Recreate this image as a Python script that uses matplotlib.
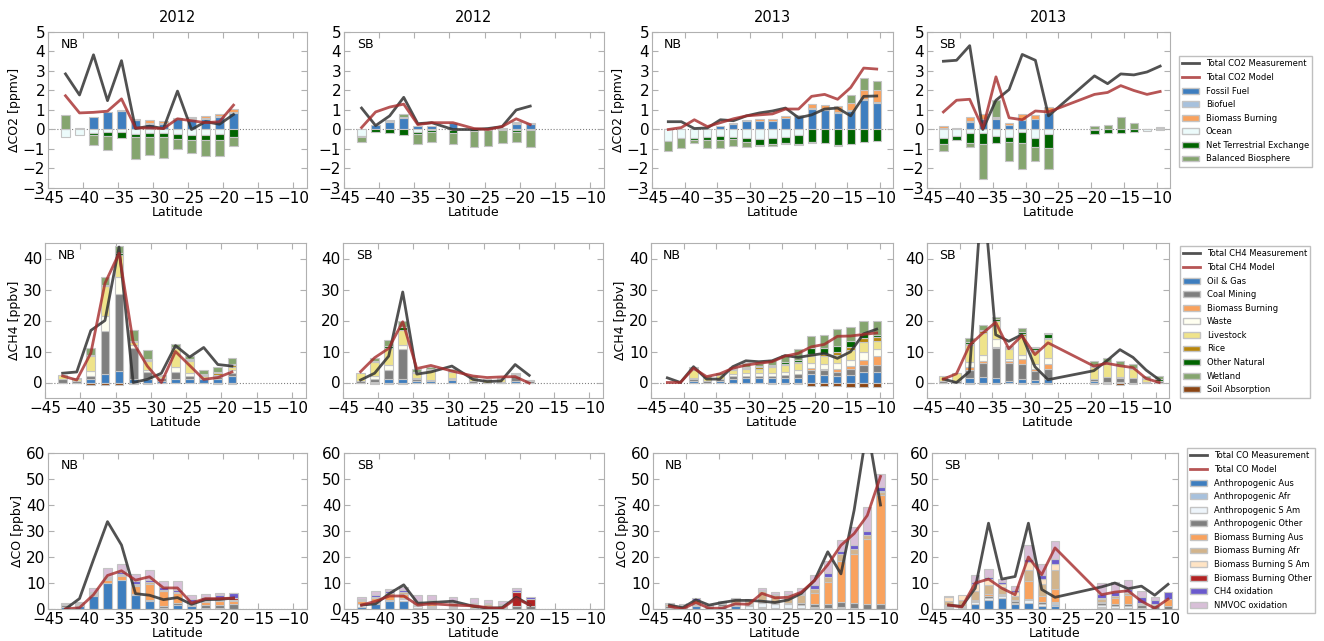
import numpy as np
import matplotlib.pyplot as plt
from matplotlib.lines import Line2D
from matplotlib.patches import Patch

# latitude bin centres of each campaign
lat_nb12 = [-42.5, -40.5, -38.5, -36.5, -34.5, -32.5, -30.5, -28.5, -26.5, -24.5, -22.5, -20.5, -18.5]
lat_sb12 = [-42.5, -40.5, -38.5, -36.5, -34.5, -32.5, -29.5, -26.5, -24.5, -22.5, -20.5, -18.5]
lat_nb13 = [-42.5, -40.5, -38.5, -36.5, -34.5, -32.5, -30.5, -28.5, -26.5, -24.5, -22.5,
            -20.5, -18.5, -16.5, -14.5, -12.5, -10.5]
lat_sb13 = [-42.5, -40.5, -38.5, -36.5, -34.5, -32.5, -30.5, -28.5, -26.5,
            -19.5, -17.5, -15.5, -13.5, -11.5, -9.5]

# ---------------- CO2 [ppmv] ----------------
co2_labels = ['Fossil Fuel', 'Biofuel', 'Biomass Burning', 'Ocean',
              'Net Terrestrial Exchange', 'Balanced Biosphere']
co2_colors = ['#3e7ebf', '#a7c1dd', '#f9a25d', '#ecfbfb', '#006400', '#85a56f']

co2_nb12_ff = [0, 0.08, 0.62, 0.9, 0.97, 0.48, 0.3, 0.3, 0.55, 0.55, 0.55, 0.65, 0.85]
co2_nb12_bf = [0, 0, 0, 0, 0, 0.03, 0.05, 0.05, 0, 0.03, 0.05, 0.05, 0.05]
co2_nb12_bb = [0, 0, 0, 0, 0.02, 0.05, 0.13, 0.1, 0.05, 0.07, 0.1, 0.08, 0.15]
co2_nb12_oc = [-0.4, -0.28, -0.2, -0.15, -0.15, -0.22, -0.2, -0.2, -0.25, -0.3, -0.3, -0.25, 0]
co2_nb12_nte = [0, 0, -0.1, -0.2, -0.3, -0.18, -0.2, -0.2, -0.25, -0.25, -0.25, -0.3, -0.4]
co2_nb12_bal = [0.73, 0, -0.47, -0.68, 0, -1.13, -0.9, -1.05, -0.5, -0.68, -0.83, -0.8, -0.45]
co2_nb12_meas = [2.85, 1.77, 3.83, 1.48, 3.53, 0.05, 0.17, 0.05, 1.97, 0.0, 0.4, 0.27, 0.77]
co2_nb12_model = [1.73, 0.85, 0.88, 0.94, 1.57, 0.08, 0.08, 0.05, 0.55, 0.45, 0.35, 0.4, 1.25]

co2_sb12_ff = [0, 0.22, 0.4, 0.6, 0.2, 0.2, 0.35, 0, 0, 0.1, 0.3, 0.3]
co2_sb12_bf = [0, 0, 0.03, 0, 0, 0, 0, 0, 0, 0, 0.05, 0]
co2_sb12_bb = [0, 0, 0, 0.05, 0, 0, 0, 0, 0, 0, 0.05, 0.05]
co2_sb12_oc = [-0.35, 0, 0, 0, -0.12, -0.05, -0.05, 0, 0, 0, -0.05, 0]
co2_sb12_nte = [-0.05, -0.15, -0.18, -0.3, -0.1, -0.1, -0.12, -0.1, -0.05, -0.02, -0.08, -0.05]
co2_sb12_bal = [-0.25, 0, 0.05, 0.12, -0.5, -0.5, -0.55, -0.78, -0.78, -0.65, -0.5, -0.85]
co2_sb12_meas = [1.1, 0.2, 0.7, 1.65, 0.3, 0.35, 0.0, 0.0, 0.05, 0.15, 1.0, 1.2]
co2_sb12_model = [0.1, 0.9, 1.15, 1.3, 0.25, 0.35, 0.35, 0.05, 0.0, 0.15, 0.55, 0.25]

co2_nb13_ff = [0, 0, 0.03, 0, 0.2, 0.3, 0.45, 0.45, 0.45, 0.6, 0.7, 1.05, 1.0, 0.85, 0.95, 1.5, 1.35]
co2_nb13_bf = [0, 0, 0, 0, 0, 0, 0, 0, 0, 0, 0, 0.05, 0.05, 0.05, 0.05, 0.05, 0.05]
co2_nb13_bb = [0, 0, 0, 0, 0, 0.02, 0.03, 0.1, 0.07, 0.07, 0.03, 0.2, 0.2, 0.3, 0.35, 0.5, 0.6]
co2_nb13_oc = [-0.6, -0.45, -0.45, -0.4, -0.35, -0.38, -0.45, -0.5, -0.45, -0.4, -0.3,
               0, 0, 0, 0, 0, 0]
co2_nb13_nte = [0, 0, -0.1, -0.12, -0.2, -0.1, -0.2, -0.3, -0.3, -0.3, -0.45,
                -0.65, -0.7, -0.8, -0.75, -0.65, -0.6]
co2_nb13_bal = [-0.5, -0.5, -0.13, -0.43, -0.4, -0.37, -0.23, -0.07, -0.08, -0.05, -0.05,
                -0.05, 0, -0.05, 0.4, 0.6, 0.5]
co2_nb13_meas = [0.4, 0.4, 0.05, 0.08, 0.5, 0.45, 0.7, 0.85, 0.95, 1.1, 0.6, 0.75, 1.05, 1.1, 0.7, 1.7, 1.72]
co2_nb13_model = [0.0, 0.1, 0.5, 0.15, 0.35, 0.55, 0.7, 0.75, 0.8, 1.05, 1.05, 1.7, 1.8, 1.55, 2.15, 3.15, 3.1]

co2_sb13_ff = [0.1, 0.05, 0.4, 0.55, 0.55, 0.25, 0.5, 0.55, 0.85, 0.05, 0, 0, 0.05, 0, 0.05]
co2_sb13_bf = [0, 0, 0.05, 0, 0.05, 0, 0, 0, 0.05, 0, 0, 0, 0, 0, 0]
co2_sb13_bb = [0.1, 0.03, 0.2, 0.25, 0.05, 0.1, 0.3, 0.2, 0.25, 0, 0, 0.05, 0, 0, 0.05]
co2_sb13_oc = [-0.45, -0.35, -0.2, -0.2, -0.35, -0.4, -0.15, -0.45, -0.25, -0.05, 0, 0, 0, -0.1, 0]
co2_sb13_nte = [-0.3, -0.2, -0.5, -0.55, -0.35, -0.25, -0.55, -0.45, -0.7, -0.2, -0.2, -0.2, -0.15, 0, -0.05]
co2_sb13_bal = [-0.35, 0, -0.2, -1.8, 0.85, -0.95, -1.35, -0.7, -1.05, 0.15, 0.25, 0.6, 0.3, 0.05, 0.05]
co2_sb13_meas = [3.5, 3.55, 4.3, 0.0, 1.5, 2.05, 3.85, 3.55, 0.7, 2.75, 2.35, 2.85, 2.8, 2.95, 3.25]
co2_sb13_model = [0.9, 1.5, 1.55, 0.05, 2.7, 0.6, 0.5, 0.95, 0.9, 1.8, 1.9, 2.25, 2.0, 1.8, 1.95]

# ---------------- CH4 [ppbv] ----------------
ch4_labels = ['Oil & Gas', 'Coal Mining', 'Biomass Burning', 'Waste', 'Livestock',
              'Rice', 'Other Natural', 'Wetland', 'Soil Absorption']
ch4_colors = ['#3e7ebf', '#7f7f7f', '#f9a25d', '#fffff0', '#efe38a',
              '#b8860b', '#006400', '#85a56f', '#8b4513']

ch4_nb12_og = [0, 0, 1.0, 2.8, 3.8, 1.2, 1.0, 0.5, 1.0, 1.0, 1.0, 1.2, 2.0]
ch4_nb12_coal = [1.0, 0.5, 1.0, 13.7, 24.7, 9.8, 2.5, 1.0, 2.5, 1.0, 0.5, 0.6, 1.0]
ch4_nb12_bb = [0, 0, 0, 0, 0, 0, 0, 0, 0, 0, 0, 0, 0]
ch4_nb12_waste = [0, 0, 1.8, 5.0, 5.5, 1.0, 0.5, 0, 1.5, 1.2, 0, 0.4, 1.0]
ch4_nb12_live = [1.5, 0.6, 4.7, 9.5, 7.0, 1.0, 3.0, 0.5, 6.0, 3.6, 0.7, 0.3, 1.0]
ch4_nb12_rice = [0, 0, 0, 0, 0, 0, 0.3, 0, 0, 0.4, 0.3, 0.5, 0.6]
ch4_nb12_oth = [0, 0, 0.3, 0.5, 0.8, 0.3, 0.3, 0.2, 0.5, 0.3, 0.3, 0.3, 0.3]
ch4_nb12_wet = [0, 0.2, 2.2, 2.5, 2.2, 3.7, 2.9, 0.3, 1.0, 1.0, 1.2, 1.7, 2.1]
ch4_nb12_soil = [-0.2, -0.2, -0.8, -0.8, -0.8, -0.5, -0.5, -0.3, -0.3, -0.3, -0.3, -0.4, -0.4]
ch4_nb12_meas = [3.0, 3.4, 16.8, 20.0, 43.7, 0.0, 1.0, 3.0, 11.9, 8.2, 11.3, 5.8, 5.3]
ch4_nb12_model = [2.1, 0.8, 9.5, 32.0, 41.7, 13.0, 5.3, 0.0, 10.0, 5.5, 1.0, 1.6, 3.4]

ch4_sb12_og = [0, 0.3, 1.0, 1.2, 0.5, 0.5, 0.7, 0, 0, 0, 0.4, 0]
ch4_sb12_coal = [0.5, 0.7, 3.0, 9.6, 0.5, 0.3, 0.3, 0.5, 0, 0.3, 1.6, 0.5]
ch4_sb12_bb = [0, 0, 0, 0, 0, 0, 0, 0, 0, 0, 0, 0]
ch4_sb12_waste = [0, 1.0, 1.5, 1.4, 0.3, 0, 0.5, 0, 0, 0, 0, 0]
ch4_sb12_live = [2.5, 4.5, 5.5, 4.8, 1.7, 3.2, 2.0, 0.8, 0.8, 0.7, 0.3, 0]
ch4_sb12_rice = [0, 0, 0, 0, 0, 0, 0, 0, 0, 0, 0, 0]
ch4_sb12_oth = [0, 0.3, 0.8, 0.8, 0.3, 0.3, 0.3, 0.3, 0, 0, 0.3, 0.3]
ch4_sb12_wet = [0, 1.0, 2.0, 2.2, 1.2, 0.7, 0.5, 0.4, 0.4, 0.5, 0.4, 0]
ch4_sb12_soil = [-0.2, -0.5, -0.5, -0.6, -0.2, -0.2, -0.1, -0.1, -0.1, -0.1, -0.2, -0.1]
ch4_sb12_meas = [0.8, 3.0, 8.5, 29.2, 2.7, 3.4, 5.3, 1.0, 0.3, 0.5, 5.8, 2.3]
ch4_sb12_model = [3.5, 8.0, 11.0, 19.6, 4.5, 5.5, 3.7, 2.1, 1.6, 1.8, 1.9, -0.2]

ch4_nb13_og = [0, 0, 0.5, 0, 0.5, 1.0, 1.3, 1.3, 1.3, 1.4, 1.5, 2.6, 2.3, 2.0, 2.3, 3.3, 3.3]
ch4_nb13_coal = [0, 0, 0.5, 0.5, 0.7, 1.0, 0.7, 0.7, 0.8, 1.0, 1.2, 1.5, 1.6, 1.5, 2.0, 2.3, 2.3]
ch4_nb13_bb = [0, 0, 0, 0, 0, 0, 0, 0, 0, 0, 0, 0.5, 0.6, 1.0, 1.0, 1.8, 2.8]
ch4_nb13_waste = [0, 0, 0.5, 0, 0, 0.8, 1.0, 1.0, 1.0, 1.1, 1.3, 1.7, 1.5, 1.8, 1.8, 2.5, 2.5]
ch4_nb13_live = [0, 0, 2.5, 1.0, 1.3, 1.2, 1.2, 1.5, 1.8, 2.0, 2.2, 2.3, 2.6, 2.6, 3.5, 3.3, 2.5]
ch4_nb13_rice = [0, 0, 0.5, 0, 0, 0.4, 0.4, 0.4, 0.4, 0.5, 0.5, 0.6, 0.7, 0.8, 0.9, 1.2, 1.2]
ch4_nb13_oth = [0, 0, 0.2, 0, 0, 0.2, 0.3, 0.3, 0.4, 0.5, 0.6, 1.8, 1.7, 2.2, 2.0, 1.5, 0.8]
ch4_nb13_wet = [0, 0, 0.3, 0.5, 0.7, 0.4, 1.5, 1.0, 1.5, 2.3, 3.4, 4.0, 4.4, 5.5, 4.5, 4.1, 4.6]
ch4_nb13_soil = [0, 0, -0.3, 0, -0.2, -0.3, -0.3, -0.3, -0.4, -0.5, -0.5,
                 -1.0, -1.0, -1.2, -1.3, -1.5, -1.5]
ch4_nb13_meas = [1.5, 0.0, 5.1, 1.1, 1.1, 5.1, 7.0, 6.7, 7.0, 8.7, 8.1, 8.8, 9.4, 7.8, 9.9, 15.7, 17.2]
ch4_nb13_model = [0.0, 0.0, 4.6, 1.9, 2.8, 4.6, 5.6, 6.2, 6.7, 8.5, 9.4, 11.5, 12.3, 14.9, 15.0, 15.5, 16.0]

ch4_sb13_og = [0, 0, 1.5, 1.7, 1.3, 0.6, 1.2, 0.7, 1.0, 0.5, 0.3, 0.3, 0, 0, 0]
ch4_sb13_coal = [0.5, 0.5, 2.5, 4.6, 9.7, 5.7, 4.8, 2.9, 3.5, 0.7, 1.5, 1.0, 1.5, 0.3, 0.5]
ch4_sb13_bb = [0, 0, 1.0, 0.5, 0.5, 0.5, 1.5, 0.6, 1.5, 0, 0, 0.5, 0, 0, 0]
ch4_sb13_waste = [0, 0, 1.5, 2.2, 2.5, 0.7, 1.5, 1.8, 1.8, 0, 0, 0, 0, 0, 0]
ch4_sb13_live = [1.7, 2.5, 5.5, 7.0, 6.0, 3.3, 6.0, 4.2, 6.2, 3.8, 4.2, 3.5, 2.8, 0.7, 0]
ch4_sb13_rice = [0, 0, 0.5, 0.5, 0, 0.3, 0.5, 0.3, 0.5, 0.3, 0.3, 0.2, 0, 0, 0]
ch4_sb13_oth = [0, 0, 0.5, 0.5, 0.5, 0.3, 0.8, 0.5, 1.0, 0.4, 0.3, 0.3, 0.4, 0.3, 0.5]
ch4_sb13_wet = [0, 0, 1.5, 1.5, 0.5, 0.4, 1.2, 0.3, 0.5, 1.1, 1.2, 1.2, 1.3, 0.7, 1.0]
ch4_sb13_soil = [-0.3, 0, -0.5, -0.5, -0.5, -0.3, -0.5, -0.4, -0.5, -0.5, -0.5, -0.8, -0.5, -0.2, -0.3]
ch4_sb13_meas = [1.1, 0.0, 3.5, 64.0, 15.4, 13.3, 15.4, 5.1, 0.9, 3.8, 7.0, 10.6, 8.1, 4.0, 0.9]
ch4_sb13_model = [1.1, 2.8, 12.0, 15.9, 19.4, 10.9, 15.1, 9.0, 12.8, 5.3, 6.2, 5.4, 4.8, 1.3, 0.0]

# ---------------- CO [ppbv] ----------------
co_labels = ['Anthropogenic Aus', 'Anthropogenic Afr', 'Anthropogenic S Am', 'Anthropogenic Other',
             'Biomass Burning Aus', 'Biomass Burning Afr', 'Biomass Burning S Am',
             'Biomass Burning Other', 'CH4 oxidation', 'NMVOC oxidation']
co_colors = ['#3e7ebf', '#a7c1dd', '#eef5fb', '#7f7f7f', '#f9a25d',
             '#d2b48c', '#ffe4c4', '#b22222', '#6a5acd', '#d8bfd8']

co_nb12_aus = [0.8, 1.2, 5.0, 10.0, 11.0, 5.5, 3.0, 0.3, 1.5, 1.0, 0.3, 0.3, 0]
co_nb12_afr = [0, 0, 0, 0, 0, 0, 0, 0, 0, 0, 0, 0, 0]
co_nb12_sam = [0, 0, 0, 0, 0, 0, 0, 0, 0, 0, 0, 0, 0]
co_nb12_oth = [0.7, 0.5, 0.3, 0, 0, 0.3, 0.3, 0.7, 0.8, 0.5, 1.2, 1.2, 2.0]
co_nb12_bbaus = [0, 0, 0.5, 1.2, 1.8, 3.0, 6.5, 5.8, 3.7, 0.5, 1.3, 1.5, 1.2]
co_nb12_bbafr = [0.3, 0.3, 0.3, 0.3, 0.3, 0.5, 0.4, 0.3, 0, 0.3, 0.3, 0.4, 0.4]
co_nb12_bbsam = [0, 0, 0, 0, 0, 0, 0, 0, 0, 0, 0, 0, 0]
co_nb12_bboth = [0, 0, 0, 0.3, 0.3, 0.3, 0.3, 0.3, 0.5, 0.5, 0.5, 1.0, 0.8]
co_nb12_ch4 = [0.3, 0.3, 0.6, 0.7, 0.7, 1.2, 0.8, 1.0, 1.0, 1.2, 1.0, 1.0, 1.6]
co_nb12_nmvoc = [0.4, 0.5, 1.3, 3.3, 3.2, 2.7, 3.7, 2.4, 3.3, 1.3, 1.0, 0.9, 0.1]
co_nb12_meas = [0.0, 4.0, 19.0, 33.6, 24.6, 5.9, 5.3, 3.6, 4.4, 1.8, 3.6, 3.7, 4.2]
co_nb12_model = [0.0, 0.5, 5.5, 12.9, 14.7, 11.1, 12.4, 8.1, 8.1, 2.3, 4.0, 4.0, 4.2]

co_sb12_aus = [0.8, 2.0, 3.0, 3.0, 0.5, 0.3, 0, 0, 0, 0, 0, 0]
co_sb12_afr = [0, 0, 0, 0, 0, 0, 0, 0, 0, 0, 0, 0]
co_sb12_sam = [1.0, 0.3, 0, 0.8, 0.5, 0.5, 0.3, 0, 0, 0, 0, 0]
co_sb12_oth = [0.3, 0.5, 0.3, 0.3, 0.5, 0.5, 0.5, 0.5, 0.5, 0.5, 1.0, 1.2]
co_sb12_bbaus = [0.8, 1.5, 2.0, 1.5, 0, 0.5, 0.5, 0.8, 0.7, 0.3, 0, 0]
co_sb12_bbafr = [0.5, 0.5, 1.0, 1.0, 0.8, 1.0, 1.0, 0.8, 0.7, 0.7, 0, 0]
co_sb12_bbsam = [0, 0, 0, 0, 0, 0, 0, 0, 0, 0, 0, 0]
co_sb12_bboth = [0, 0, 0, 0, 0.3, 0.2, 0, 0, 0, 0, 5.5, 2.5]
co_sb12_ch4 = [0.3, 0.4, 0.5, 0.8, 0.5, 0.5, 0.3, 0.3, 0.3, 0.3, 0.8, 1.0]
co_sb12_nmvoc = [1.1, 1.6, 1.0, 1.1, 2.1, 1.7, 1.9, 1.9, 1.4, 1.4, 0.9, 0]
co_sb12_meas = [1.5, 2.0, 6.0, 9.3, 2.2, 2.5, 3.0, 1.0, 0.3, 0.5, 4.5, 1.5]
co_sb12_model = [1.5, 3.0, 5.0, 5.0, 1.5, 2.0, 1.5, 1.2, 0.5, 0.2, 4.0, 1.5]

co_nb13_aus = [0.5, 0.3, 1.0, 0, 0.8, 1.0, 0, 0.3, 0, 0, 0, 0.3, 0.3, 0.3, 0, 0, 0]
co_nb13_afr = [0, 0, 0, 0, 0, 0, 0, 0.5, 0.5, 0.5, 0.5, 0.3, 0, 0, 0, 0, 0]
co_nb13_sam = [0, 0, 0.5, 0, 0.3, 0.5, 1.0, 1.7, 1.5, 1.5, 1.0, 0.3, 0, 0.5, 0.3, 0, 0]
co_nb13_oth = [0.8, 0.8, 0.3, 0.8, 0.8, 0.5, 0.5, 0.3, 0.5, 0.3, 0.8, 1.2, 1.5, 1.8, 2.0, 2.0, 2.0]
co_nb13_bbaus = [0, 0, 1.5, 0, 0.3, 0.5, 0.5, 0.5, 0, 0, 0, 4.0, 8.5, 16.0, 18.8, 25.0, 42.0]
co_nb13_bbafr = [0.8, 0.5, 0.3, 0.5, 0.5, 1.2, 1.2, 3.5, 2.8, 2.5, 3.0, 1.5, 2.0, 2.4, 2.0, 1.3, 1.0]
co_nb13_bbsam = [0, 0, 0, 0, 0, 0, 0, 0, 0, 0.5, 0, 0, 0, 0.3, 0, 0.3, 0.5]
co_nb13_bboth = [0, 0, 0, 0, 0, 0, 0, 0, 0, 0, 0, 0, 0, 0, 0, 0, 0]
co_nb13_ch4 = [0.3, 0.3, 0.5, 0.3, 0.5, 0.7, 0.4, 0.5, 0.5, 0.5, 0.6, 1.5, 1.5, 1.0, 1.5, 1.5, 1.5]
co_nb13_nmvoc = [0, 0, 0, 0, 0, 0, 0.4, 0.8, 0.8, 1.0, 2.0, 4.0, 4.5, 4.2, 7.0, 9.0, 5.0]
co_nb13_meas = [1.5, 0.5, 3.5, 1.5, 2.5, 3.3, 3.3, 3.0, 2.5, 3.5, 6.0, 11.0, 22.0, 13.5, 38.0, 70.0, 40.0]
co_nb13_model = [1.0, 0.0, 2.5, 0.3, 0.3, 2.0, 1.8, 6.0, 4.3, 4.5, 6.5, 11.0, 17.0, 24.5, 29.0, 36.0, 51.0]

co_sb13_aus = [0.3, 0.5, 1.8, 3.3, 4.3, 2.0, 2.3, 1.3, 1.3, 0.3, 0.3, 0.3, 0, 0, 0]
co_sb13_afr = [0.5, 0, 0, 0, 0, 0, 0, 0, 0.5, 0.3, 0, 0, 0, 0, 0]
co_sb13_sam = [0.5, 0.3, 0.8, 1.0, 0.7, 0.5, 1.0, 0.8, 0.5, 0.8, 1.0, 0.8, 0.5, 0, 0]
co_sb13_oth = [0.3, 0.5, 0.5, 0.8, 0.5, 0.5, 0.5, 0.5, 0.5, 0.8, 0.8, 0.8, 1.0, 1.5, 1.0]
co_sb13_bbaus = [0, 0, 0.5, 0.5, 0.3, 0.5, 6.8, 2.5, 4.8, 0.5, 2.0, 3.5, 0.5, 0, 3.0]
co_sb13_bbafr = [1.5, 2.0, 3.5, 3.5, 2.5, 1.5, 4.5, 4.5, 7.5, 1.0, 0.8, 0.8, 0.5, 0.3, 0]
co_sb13_bbsam = [1.5, 2.0, 2.5, 2.3, 1.3, 1.5, 3.0, 2.0, 2.2, 0.3, 0, 0.3, 0, 0, 0]
co_sb13_bboth = [0.3, 0, 0, 0, 0, 0, 0, 0, 0, 0.3, 0, 0, 0, 0, 0]
co_sb13_ch4 = [0, 0, 0.8, 1.0, 0.8, 1.0, 1.0, 1.5, 1.8, 1.5, 1.5, 1.3, 2.3, 1.5, 2.5]
co_sb13_nmvoc = [0, 0, 2.8, 3.0, 1.2, 1.2, 5.5, 4.3, 7.0, 4.2, 4.0, 3.2, 2.3, 1.5, 0]
co_sb13_meas = [1.5, 1.0, 8.0, 33.0, 11.5, 12.5, 33.0, 7.5, 4.5, 8.5, 10.0, 7.8, 8.8, 5.3, 9.5]
co_sb13_model = [1.5, 0.8, 10.0, 11.5, 8.0, 5.5, 20.0, 13.2, 23.5, 5.5, 6.5, 7.0, 3.0, 0.3, 3.8]

meas_color = '#333333'
model_color = '#a52a2a'


def draw_panel(ax, lat, comps, colors, meas, model):
    lat = np.array(lat, dtype=float)
    pos = np.zeros(len(lat))
    neg = np.zeros(len(lat))
    for vals, col in zip(comps, colors):
        v = np.array(vals, dtype=float)
        keep = v != 0
        base = np.where(v > 0, pos, neg)
        ax.bar(lat[keep], v[keep], width=1.25, bottom=base[keep], color=col,
               edgecolor='#c4c4c4', linewidth=0.8, zorder=2)
        pos += np.clip(v, 0, None)
        neg += np.clip(v, None, 0)
    ax.axhline(0, color='gray', ls=':', lw=0.8, zorder=1)
    ax.plot(lat, meas, color=meas_color, lw=2, alpha=0.85, zorder=3)
    ax.plot(lat, model, color=model_color, lw=2, alpha=0.8, zorder=3)


def style(ax, ylim, yticks, tag, ylabel=None, title=None):
    ax.set_xlim(-45, -8)
    ax.set_ylim(*ylim)
    ax.set_xticks(range(-45, -9, 5))
    ax.set_yticks(yticks)
    ax.tick_params(direction='in', top=True, right=True, length=4, color='#b0b0b0',
                   labelsize=11, pad=2)
    for s in ax.spines.values():
        s.set_color('#b0b0b0')
    ax.set_xlabel('Latitude', fontsize=9, labelpad=0)
    if ylabel:
        ax.set_ylabel(ylabel, fontsize=9, labelpad=1)
    if title:
        ax.set_title(title, fontsize=10.5, pad=7)
    ax.text(0.05, 0.92, tag, transform=ax.transAxes, fontsize=9, va='center')


W, H = 1324, 641
fig = plt.figure(figsize=(W / 100, H / 100), dpi=100)


def add_ax(l, r, t, b):
    return fig.add_axes([l / W, 1 - b / H, (r - l) / W, (b - t) / H])


row_tb = [(32, 188), (243, 398), (453, 609)]
col_lr = [[(48, 307), (344, 604), (652, 893), (927, 1170)],
          [(45, 306), (343, 603), (651, 893), (927, 1169)],
          [(48, 307), (344, 604), (653, 897), (932, 1178)]]

lats = [lat_nb12, lat_sb12, lat_nb13, lat_sb13]
tags = ['NB', 'SB', 'NB', 'SB']
years = ['2012', '2012', '2013', '2013']

co2_panels = [
    ([co2_nb12_ff, co2_nb12_bf, co2_nb12_bb, co2_nb12_oc, co2_nb12_nte, co2_nb12_bal], co2_nb12_meas, co2_nb12_model),
    ([co2_sb12_ff, co2_sb12_bf, co2_sb12_bb, co2_sb12_oc, co2_sb12_nte, co2_sb12_bal], co2_sb12_meas, co2_sb12_model),
    ([co2_nb13_ff, co2_nb13_bf, co2_nb13_bb, co2_nb13_oc, co2_nb13_nte, co2_nb13_bal], co2_nb13_meas, co2_nb13_model),
    ([co2_sb13_ff, co2_sb13_bf, co2_sb13_bb, co2_sb13_oc, co2_sb13_nte, co2_sb13_bal], co2_sb13_meas, co2_sb13_model),
]
ch4_panels = [
    ([ch4_nb12_og, ch4_nb12_coal, ch4_nb12_bb, ch4_nb12_waste, ch4_nb12_live, ch4_nb12_rice,
      ch4_nb12_oth, ch4_nb12_wet, ch4_nb12_soil], ch4_nb12_meas, ch4_nb12_model),
    ([ch4_sb12_og, ch4_sb12_coal, ch4_sb12_bb, ch4_sb12_waste, ch4_sb12_live, ch4_sb12_rice,
      ch4_sb12_oth, ch4_sb12_wet, ch4_sb12_soil], ch4_sb12_meas, ch4_sb12_model),
    ([ch4_nb13_og, ch4_nb13_coal, ch4_nb13_bb, ch4_nb13_waste, ch4_nb13_live, ch4_nb13_rice,
      ch4_nb13_oth, ch4_nb13_wet, ch4_nb13_soil], ch4_nb13_meas, ch4_nb13_model),
    ([ch4_sb13_og, ch4_sb13_coal, ch4_sb13_bb, ch4_sb13_waste, ch4_sb13_live, ch4_sb13_rice,
      ch4_sb13_oth, ch4_sb13_wet, ch4_sb13_soil], ch4_sb13_meas, ch4_sb13_model),
]
co_panels = [
    ([co_nb12_aus, co_nb12_afr, co_nb12_sam, co_nb12_oth, co_nb12_bbaus, co_nb12_bbafr,
      co_nb12_bbsam, co_nb12_bboth, co_nb12_ch4, co_nb12_nmvoc], co_nb12_meas, co_nb12_model),
    ([co_sb12_aus, co_sb12_afr, co_sb12_sam, co_sb12_oth, co_sb12_bbaus, co_sb12_bbafr,
      co_sb12_bbsam, co_sb12_bboth, co_sb12_ch4, co_sb12_nmvoc], co_sb12_meas, co_sb12_model),
    ([co_nb13_aus, co_nb13_afr, co_nb13_sam, co_nb13_oth, co_nb13_bbaus, co_nb13_bbafr,
      co_nb13_bbsam, co_nb13_bboth, co_nb13_ch4, co_nb13_nmvoc], co_nb13_meas, co_nb13_model),
    ([co_sb13_aus, co_sb13_afr, co_sb13_sam, co_sb13_oth, co_sb13_bbaus, co_sb13_bbafr,
      co_sb13_bbsam, co_sb13_bboth, co_sb13_ch4, co_sb13_nmvoc], co_sb13_meas, co_sb13_model),
]

rows = [
    (co2_panels, co2_colors, co2_labels, 'CO2', (-3, 5), range(-3, 6), 'ΔCO2 [ppmv]', (1179, 56)),
    (ch4_panels, ch4_colors, ch4_labels, 'CH4', (-5, 45), range(0, 41, 10), 'ΔCH4 [ppbv]', (1180, 246)),
    (co_panels, co_colors, co_labels, 'CO', (0, 60), range(0, 61, 10), 'ΔCO [ppbv]', (1187, 448)),
]

for r, (panels, colors, labels, gas, ylim, yticks, ylab, leg_xy) in enumerate(rows):
    t, b = row_tb[r]
    for c, (comps, meas, model) in enumerate(panels):
        l, rr = col_lr[r][c]
        ax = add_ax(l, rr, t, b)
        draw_panel(ax, lats[c], comps, colors, meas, model)
        style(ax, ylim, yticks, tags[c],
              ylabel=ylab if c in (0, 2) else None,
              title=years[c] if r == 0 else None)
    handles = [Line2D([], [], color=meas_color, lw=2, alpha=0.85),
               Line2D([], [], color=model_color, lw=2, alpha=0.8)]
    handles += [Patch(facecolor=col, edgecolor='#c4c4c4') for col in colors]
    names = ['Total %s Measurement' % gas, 'Total %s Model' % gas] + labels
    leg = fig.legend(handles, names, loc='upper left',
                     bbox_to_anchor=(leg_xy[0] / W, 1 - leg_xy[1] / H),
                     fontsize=6, fancybox=False, borderaxespad=0, labelspacing=0.55)
    leg.get_frame().set_edgecolor('#b0b0b0')

fig.savefig('out.png', dpi=100)
